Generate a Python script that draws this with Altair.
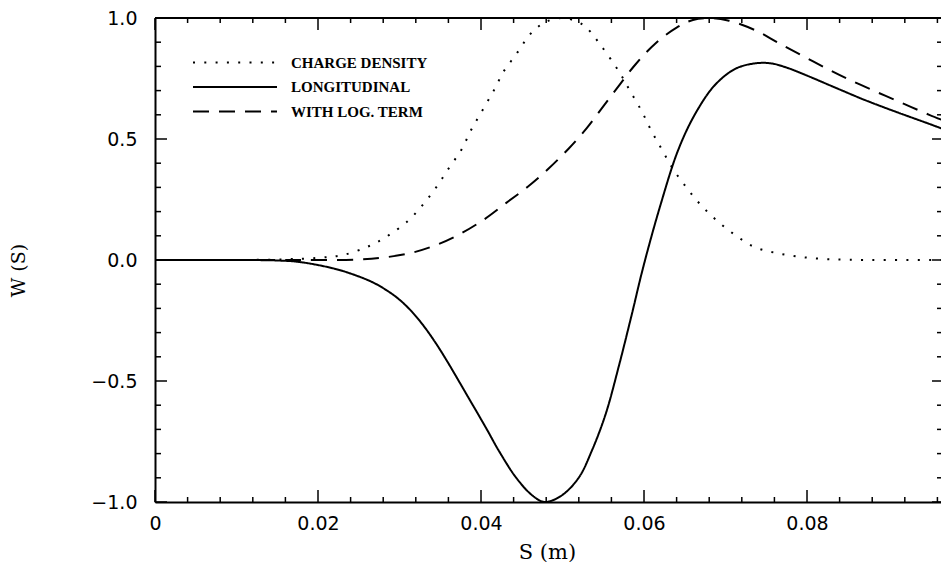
import altair as alt
import pandas as pd

W, H = 786, 484
X_MAX = 0.09644

series_names = ["CHARGE DENSITY", "LONGITUDINAL", "WITH LOG. TERM"]

cd_s = [0.0, 0.010, 0.016, 0.020, 0.023, 0.0263, 0.0287, 0.031, 0.0328, 0.0345, 0.0361,
        0.0376, 0.0388, 0.0402, 0.0416, 0.0428, 0.0444, 0.0459, 0.0469, 0.048, 0.050,
        0.052, 0.0530, 0.0547, 0.0569, 0.0583, 0.0597, 0.0609, 0.0622, 0.0636, 0.0652,
        0.0669, 0.0689, 0.0712, 0.0736, 0.0762, 0.0789, 0.0817, 0.085, 0.090, 0.0974]
cd_w = [0.0, 0.0, 0.003, 0.009, 0.02, 0.058, 0.103, 0.160, 0.226, 0.300, 0.382,
        0.456, 0.538, 0.620, 0.702, 0.780, 0.854, 0.928, 0.961, 0.985, 1.0,
        0.982, 0.958, 0.887, 0.780, 0.698, 0.616, 0.534, 0.456, 0.374, 0.300,
        0.230, 0.164, 0.103, 0.053, 0.029, 0.014, 0.005, 0.001, 0.0, 0.0]

lg_s = [0.0, 0.010, 0.015, 0.0177, 0.0218, 0.024, 0.0267, 0.0285, 0.030, 0.0315, 0.033,
        0.0345, 0.036, 0.0381, 0.0406, 0.0422, 0.0443, 0.0463, 0.0478, 0.0499, 0.0520,
        0.0536, 0.0553, 0.0569, 0.0585, 0.0599, 0.0620, 0.0642, 0.0663, 0.0687, 0.0712,
        0.0735, 0.0755, 0.0775, 0.0800, 0.0830, 0.0871, 0.0911, 0.0952, 0.0974]
lg_w = [0.0, 0.0, -0.002, -0.008, -0.034, -0.056, -0.092, -0.127, -0.164, -0.213, -0.274,
        -0.346, -0.427, -0.548, -0.693, -0.789, -0.899, -0.973, -1.0, -0.973, -0.899,
        -0.788, -0.636, -0.440, -0.225, -0.030, 0.225, 0.455, 0.605, 0.723, 0.790,
        0.812, 0.813, 0.795, 0.762, 0.719, 0.661, 0.610, 0.560, 0.532]

lt_s = [0.0, 0.015, 0.020, 0.0247, 0.0280, 0.0314, 0.0345, 0.0374, 0.0404, 0.0431, 0.0457,
        0.0483, 0.0508, 0.0530, 0.0550, 0.0570, 0.0590, 0.0614, 0.0640, 0.0660, 0.0680,
        0.0703, 0.0736, 0.0765, 0.0795, 0.0826, 0.0855, 0.0887, 0.0919, 0.0950, 0.0974]
lt_w = [0.0, 0.0, 0.0, 0.002, 0.010, 0.029, 0.062, 0.107, 0.168, 0.236, 0.302,
        0.378, 0.462, 0.546, 0.635, 0.724, 0.810, 0.895, 0.960, 0.992, 1.0,
        0.990, 0.950, 0.897, 0.843, 0.788, 0.740, 0.692, 0.645, 0.600, 0.568]

x_major = [0.0, 0.02, 0.04, 0.06, 0.08]
x_minor = [0.004, 0.008, 0.012, 0.016, 0.024, 0.028, 0.032, 0.036, 0.044, 0.048,
           0.052, 0.056, 0.064, 0.068, 0.072, 0.076, 0.084, 0.088, 0.092, 0.096]
y_major = [-1.0, -0.5, 0.0, 0.5, 1.0]
y_minor = [-0.9, -0.8, -0.7, -0.6, -0.4, -0.3, -0.2, -0.1,
           0.1, 0.2, 0.3, 0.4, 0.6, 0.7, 0.8, 0.9]

rows = []
for name, ss, ws in [(series_names[0], cd_s, cd_w),
                     (series_names[1], lg_s, lg_w),
                     (series_names[2], lt_s, lt_w)]:
    rows += [{"series": name, "s": s, "w": w} for s, w in zip(ss, ws)]
df = pd.DataFrame(rows)

x_scale = alt.Scale(domain=[0, X_MAX], nice=False, zero=False)
y_scale = alt.Scale(domain=[-1, 1], nice=False, zero=False)

lines = alt.Chart(df).mark_line(color="black", strokeWidth=2, interpolate="catmull-rom", clip=True).encode(
    x=alt.X("s:Q", scale=x_scale, axis=alt.Axis(
        values=x_major, labelExpr="datum.value == 0 ? '0' : format(datum.value, '.2f')",
        ticks=False, tickSize=0, grid=False, domain=True, domainColor="black", domainWidth=2,
        labelFont="DejaVu Sans", labelFontSize=19, labelColor="black", labelPadding=12,
        labelFlush=False, labelOverlap=False,
        title="S (m)", titleFont="DejaVu Serif", titleFontSize=21, titleFontWeight="normal",
        titleColor="black", titleX=392, titleY=56, titleBaseline="alphabetic")),
    y=alt.Y("w:Q", scale=y_scale, axis=alt.Axis(
        values=y_major, format=".1f",
        ticks=False, tickSize=0, grid=False, domain=True, domainColor="black", domainWidth=2,
        labelFont="DejaVu Sans", labelFontSize=19, labelColor="black", labelPadding=18,
        labelFlush=False, labelOverlap=False,
        title="W (S)", titleFont="DejaVu Serif", titleFontSize=19, titleFontWeight="normal",
        titleColor="black", titleX=-137, titleY=252, titleBaseline="middle")),
    strokeDash=alt.StrokeDash("series:N",
        scale=alt.Scale(domain=series_names, range=[[2, 9.3], [1, 0], [16, 10]]),
        legend=alt.Legend(title=None, orient="none", legendX=37, legendY=33,
                          symbolType="stroke", symbolSize=7056, symbolStrokeWidth=2,
                          symbolStrokeColor="black", clipHeight=23, rowPadding=1.5,
                          labelFont="Liberation Serif", labelFontWeight="bold",
                          labelFontSize=15, labelOffset=13, labelColor="black",
                          padding=0, symbolOffset=0, labelLimit=400)),
)


def xticks(vals, length, top):
    d = pd.DataFrame({"s": vals})
    y0 = 0 if top else H
    y1 = length if top else H - length
    return alt.Chart(d).mark_rule(color="black", strokeWidth=1.5).encode(
        x="s:Q", y=alt.value(y0), y2=alt.value(y1))


def yticks(vals, length, right):
    d = pd.DataFrame({"w": vals})
    x0 = W if right else 0
    x1 = W - length if right else length
    return alt.Chart(d).mark_rule(color="black", strokeWidth=1.5).encode(
        y="w:Q", x=alt.value(x0), x2=alt.value(x1))


top_line = alt.Chart(pd.DataFrame({"w": [1.0]})).mark_rule(color="black", strokeWidth=2).encode(
    y="w:Q", x=alt.value(0), x2=alt.value(W))

chart = alt.layer(
    lines,
    xticks(x_major, 12, False), xticks(x_minor, 5, False),
    xticks(x_major, 12, True), xticks(x_minor, 5, True),
    yticks(y_major, 12, False), yticks(y_minor, 6, False),
    yticks(y_major, 9, True), yticks(y_minor, 4, True),
    top_line,
).properties(
    width=W, height=H,
    padding={"left": 147, "top": 10, "right": 0, "bottom": 60},
    autosize=alt.AutoSizeParams(type="none"),
    background="white",
).configure_view(stroke="transparent")

chart.save("out.html", embed_options={"renderer": "svg", "actions": False})
